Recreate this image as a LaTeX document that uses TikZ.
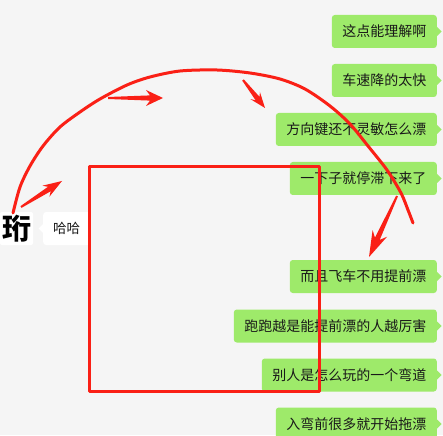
\documentclass[tikz,border=0pt]{standalone}
\usepackage{fontspec}
\newfontfamily\cjk{Noto Sans CJK SC}
\usetikzlibrary{calc}
\definecolor{bg}{RGB}{245,245,245}
\definecolor{wxgreen}{RGB}{158,234,106}
\definecolor{ink}{RGB}{25,25,25}
\definecolor{redink}{RGB}{250,32,22}
\tikzset{
  bubble/.style={fill=wxgreen, rounded corners=3pt, minimum height=33pt, inner xsep=10.5pt, inner ysep=0pt, text=ink, font=\cjk\fontsize{14}{14}\selectfont, anchor=east},
  whitebubble/.style={fill=white, rounded corners=3pt, minimum height=33pt, inner xsep=10pt, inner ysep=0pt, text=ink, font=\cjk\fontsize{13.5}{13.5}\selectfont, anchor=west},
  avatar/.style={fill=white, rounded corners=2pt, minimum width=33pt, minimum height=33pt, inner sep=0pt, text=black, font=\cjk\bfseries\fontsize{29}{29}\selectfont},
  redline/.style={draw=redink, line width=3pt, line cap=round, line join=round}
}
\newcommand{\righttail}[1]{\fill[wxgreen] ([yshift=4.5pt]#1.east) -- ([xshift=4.5pt]#1.east) -- ([yshift=-4.5pt]#1.east) -- cycle;}
% #1 start, #2 tip, #3 head length, #4 head half width, #5 shaft join distance
\newcommand{\redarrow}[5]{%
  \coordinate (hb) at ($(#2)!#3!(#1)$);
  \coordinate (hj) at ($(#2)!#5!(#1)$);
  \fill[redink] ($(#1)!1pt!90:(#2)$) -- ($(hj)!2.6pt!90:(#2)$) -- ($(hb)!#4!90:(#2)$) -- (#2)
    -- ($(hb)!#4!-90:(#2)$) -- ($(hj)!2.6pt!-90:(#2)$) -- ($(#1)!1pt!-90:(#2)$) -- cycle;
}
\begin{document}
\begin{tikzpicture}[x=1pt,y=-1pt]
\useasboundingbox (0,0) rectangle (443,435);
\clip (0,0) rectangle (443,435);
\fill[bg] (0,0) rectangle (443,435);

% right (green) messages
\node[bubble] (b1) at (437,31.5) {这点能理解啊};
\node[bubble] (b2) at (437,80.5) {车速降的太快};
\node[bubble] (b3) at (437,129.5) {方向键还不灵敏怎么漂};
\node[bubble] (b4) at (437,178.5) {一下子就停滞下来了};
\node[bubble] (b5) at (437,276.5) {而且飞车不用提前漂};
\node[bubble] (b6) at (437,326) {跑跑越是能提前漂的人越厉害};
\node[bubble] (b7) at (437,375) {别人是怎么玩的一个弯道};
\node[bubble] (b8) at (437,424) {入弯前很多就开始拖漂};
\righttail{b1}\righttail{b2}\righttail{b3}\righttail{b4}
\righttail{b5}\righttail{b6}\righttail{b7}\righttail{b8}

% left side
\node[avatar] (av) at (16.5,228.5) {珩};
\node[whitebubble] (hh) at (43,228.5) {哈哈};
\fill[white] ([yshift=4.5pt]hh.west) -- ([xshift=-4.5pt]hh.west) -- ([yshift=-4.5pt]hh.west) -- cycle;

% red annotations
\draw[redline] (89.7,166.7) rectangle (319.7,391);
\draw[redline] plot[smooth, tension=0.5] coordinates {
  (13,213) (20,187) (30,166) (43,146) (60,127) (80,112) (100,99) (127,85)
  (150,77) (180,71) (217,70) (250,73) (280,79) (305,89) (330,106) (350,124)
  (368,146) (387,170) (401,193) (408,210) (413,223)};

\coordinate (s1) at (21,207); \coordinate (t1) at (62,181);
\coordinate (s2) at (108,98); \coordinate (t2) at (163,98);
\coordinate (s3) at (243,80); \coordinate (t3) at (265,108);
\coordinate (s4) at (397,196); \coordinate (t4) at (369,257);
\redarrow{s1}{t1}{19pt}{6.5pt}{15pt}
\redarrow{s2}{t2}{17pt}{8pt}{13pt}
\redarrow{s3}{t3}{16pt}{6pt}{12pt}
\redarrow{s4}{t4}{26pt}{8pt}{20pt}
\end{tikzpicture}
\end{document}
